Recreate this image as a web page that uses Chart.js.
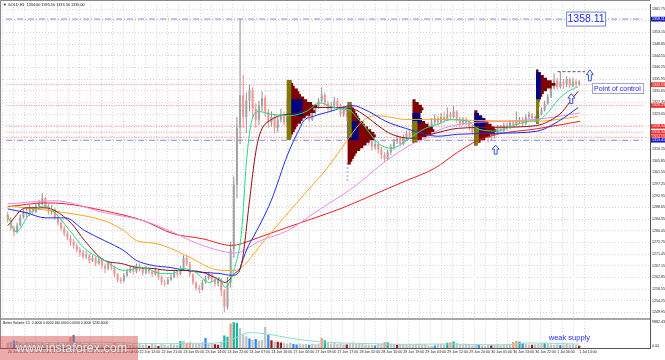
<!DOCTYPE html>
<html>
<head>
<meta charset="utf-8">
<script src="https://cdn.jsdelivr.net/npm/chart.js@4.4.0/dist/chart.umd.min.js"></script>
<style>
  html, body { margin: 0; padding: 0; background: #fff; }
  #wrap { position: relative; width: 665px; height: 360px; }
</style>
</head>
<body>
<div id="wrap"><canvas id="chart" width="665" height="360"></canvas></div>
<script>
// ============================================================
//  GOLD H1 — candles, moving averages, volume profiles, volume
// ============================================================

// ---- Candles (H1 bars) ----
const opens = [
  1286,1284,1281,1279.5,1282,1285,1287,1286,1288.5,1287,
  1289,1290,1292,1289,1287,1288,1285,1283,1281,1279,
  1277.5,1276,1274.5,1273,1272,1270.5,1271,1269,1270,1268,
  1269.5,1267,1266,1268,1266.5,1264,1262,1261.5,1263.5,1265,
  1266,1265,1267,1266,1264.5,1266,1265,1264,1265.5,1263,
  1261,1260.5,1262,1263,1264.5,1264,1266,1270,1268,1264,
  1261,1259,1258.5,1261,1262.5,1264,1262,1260.5,1262,1258,
  1252,1261,1273,1297,1318,1330,1322,1328,1332,1325,
  1321,1326,1329,1324,1320,1322,1318,1321,1323,1320,
  1322,1325,1327,1324,1322,1325,1323,1321,1324,1326,
  1328,1330,1327,1325,1326,1328,1326,1323,1325,1322,
  1318,1316,1318,1315,1313,1315,1313,1311,1312,1310,
  1308,1306.5,1309,1311,1313,1314,1312,1314.5,1316,1315,
  1317,1316,1318,1317,1319,1318,1320,1321.5,1320,1322,
  1321,1323,1322,1324,1321,1319.5,1321,1320,1318,1316.5,
  1318,1317,1315.5,1316.5,1314.5,1315,1316,1318,1317,1319,
  1318,1320,1319,1320.5,1321,1319.5,1322,1323,1321.5,1322,
  1323,1324.5,1327,1329.5,1332.5,1335.5,1333,1335,1334,1336,
  1333.5,1335,1334
];
const highs = [
  1287,1285,1282,1283,1286,1288,1288.5,1289.5,1289,1290,
  1291.5,1294,1292.5,1290,1289.5,1288.5,1286,1284,1282,1280,
  1278.5,1277,1275.5,1274,1273,1272.5,1271.5,1271,1270.5,1270.5,
  1270,1268,1269,1268.5,1267,1264.5,1263,1264.5,1266,1267,
  1267,1268,1268,1266.5,1267,1266.5,1265.5,1266.5,1266,1263.5,
  1262,1263,1264,1265.5,1265.5,1267,1271,1271,1268.5,1264.5,
  1261.5,1260,1262,1263.5,1265,1264.5,1263,1263,1262.5,1258.5,
  1263,1276,1300,1322,1358.11,1337.5,1331,1334,1333,1327,
  1328,1331.5,1330,1325,1324,1323,1322,1325,1324,1323.5,
  1326.5,1328.5,1327.5,1325,1326,1326,1324,1325,1327,1329,
  1333,1331,1328,1327.5,1329.5,1329,1327,1326,1325.5,1323,
  1319.5,1320,1319,1316,1316.5,1316,1314,1313.5,1313,1311,
  1309,1310,1312,1314,1315.5,1315,1315.5,1317,1317,1318,
  1318,1319.5,1319,1320,1320,1321.5,1323,1322.5,1323.5,1324,
  1325.5,1324,1326,1324.5,1322,1322,1322,1320.5,1319,1319,
  1319,1317.5,1317.5,1317,1316,1317,1319,1319,1320,1320,
  1321,1321,1324,1322,1322,1323,1324,1323.5,1322.5,1324,
  1325.5,1328,1330.5,1333.5,1338,1336.5,1338.7,1336,1337,1336.5,
  1336.5,1336,1335.5
];
const lows = [
  1283,1280,1278,1279,1281.5,1284.5,1285,1285.5,1286,1286.5,
  1288,1289.5,1288,1286,1286,1284,1282,1280,1278,1276.5,
  1274.5,1273.5,1272,1270.5,1269.5,1269.5,1268,1268.5,1267,1267.5,
  1266,1264.5,1265.5,1265.5,1263,1261,1260.5,1261,1263,1264.5,
  1264,1264.5,1265,1263.5,1264,1264,1263,1263.5,1262,1260,
  1259.5,1260,1261.5,1262.5,1263,1263.5,1265.5,1267,1263,1260,
  1258,1257,1258,1260.5,1262,1261,1259.5,1259.5,1256,1250,
  1251,1259,1270,1292,1312,1318,1316,1324,1322,1318,
  1319,1324,1322,1318,1318.5,1316,1316.5,1320,1319,1318.5,
  1321,1324,1323,1320.5,1321,1322,1320,1320.5,1323,1325,
  1327,1326,1324,1324,1325,1325,1322,1322,1320.5,1316,
  1314,1315,1313.5,1311,1312,1311.5,1309.5,1310,1308.5,1306.5,
  1305.5,1306,1308,1310,1312,1311,1311.5,1313.5,1314,1314,
  1315,1315.5,1316,1316.5,1317,1317.5,1319,1319,1319.5,1320,
  1320.5,1321,1321.5,1320,1318.5,1319,1319,1317,1315.5,1315.5,
  1316,1314.5,1314.5,1312.5,1313.5,1314,1315.5,1316,1316.5,1317,
  1317.5,1318,1318.5,1319.5,1318.5,1319,1321,1320.5,1320.5,1321.5,
  1322.5,1324,1326.5,1329,1332,1332,1332.5,1332.5,1333,1332.5,
  1333,1333,1333.5
];
const closes = [
  1284,1281,1279.5,1282,1285,1287,1286,1288.5,1287,1289,
  1290,1292,1289,1287,1288,1285,1283,1281,1279,1277.5,
  1276,1274.5,1273,1272,1270.5,1271,1269,1270,1268,1269.5,
  1267,1266,1268,1266.5,1264,1262,1261.5,1263.5,1265,1266,
  1265,1267,1266,1264.5,1266,1265,1264,1265.5,1263,1261,
  1260.5,1262,1263,1264.5,1264,1266,1270,1268,1264,1261,
  1259,1258.5,1261,1262.5,1264,1262,1260.5,1262,1258,1252,
  1261,1273,1297,1318,1330,1322,1328,1332,1325,1321,
  1326,1329,1324,1320,1322,1318,1321,1323,1320,1322,
  1325,1327,1324,1322,1325,1323,1321,1324,1326,1328,
  1330,1327,1325,1326,1328,1326,1323,1325,1322,1318,
  1316,1318,1315,1313,1315,1313,1311,1312,1310,1308,
  1306.5,1309,1311,1313,1314,1312,1314.5,1316,1315,1317,
  1316,1318,1317,1319,1318,1320,1321.5,1320,1322,1321,
  1323,1322,1324,1321,1319.5,1321,1320,1318,1316.5,1318,
  1317,1315.5,1316.5,1314.5,1315,1316,1318,1317,1319,1318,
  1320,1319,1320.5,1321,1319.5,1322,1323,1321.5,1322,1323,
  1324.5,1327,1329.5,1332.5,1335.5,1333,1335,1334,1336,1333.5,
  1335,1334,1335
];

// ---- Better Volume (value per bar + bar kind) ----
const volumes = [
  1800,2100,2800,2600,1900,1400,2200,1700,2000,1600,
  1500,1900,1300,1700,1200,1600,2000,1400,1800,2300,
  4200,5000,2500,1900,1600,1400,1800,1300,1500,1200,
  1400,1100,1600,1300,1900,1500,1200,1700,1400,1100,
  1300,1000,1500,1200,1400,900,1500,1300,800,1400,
  1200,1000,1500,1300,1100,2600,2800,2000,2200,1600,
  1700,1500,2100,3800,1600,2000,1400,1200,2400,4800,
  4300,9400,9882,9700,7600,5200,4500,3600,3200,3400,
  2900,3100,8000,5000,3000,2500,2400,2100,1900,1600,
  2000,1500,1300,1700,1400,1500,1200,1600,1400,1700,
  3800,3000,1900,1600,2100,1500,1800,1400,1300,1700,
  2100,1500,1800,1600,1300,1200,1100,1000,1500,1700,
  2300,2200,1600,1400,1200,1300,1500,1200,1400,1100,
  1300,1600,1200,1400,1000,900,1000,1300,1500,1200,
  2000,2200,2500,1800,1300,1100,1400,1200,1000,1300,
  1100,1000,900,1200,1000,1100,1300,1000,1200,1400,
  1600,2300,2700,2400,1800,1500,1300,1200,1400,1600,
  1700,1900,1500,1300,1200,1400,1100,1300,1500,1200,
  1400,1100,900
];
// n normal, b low/blue, t churn/teal, s climax up/salmon, r climax down/dark red
const volumeKinds =
  'nnbnnnnnnn' + 'nnnnnnnnnn' + 'sbnnnnnnnn' + 'nnnnsnnnnn' + 'nnnnnrnnrn' +
  'nnnnntnssn' + 'nnnbnnrrnt' + 'tsttnnnbnb' + 'nnnbrnrrnn' + 'nbbnnnbnnn' +
  'stnnnnnnrn' + 'nnnnnnnbnn' + 'stnnrnnnnn' + 'nnnnnnbnnn' + 'tstnnnnnnn' +
  'bnnnrnnnnn' + 'nsstbnnrnn' + 'ntnnnnbnnn' + 'nnr';
const volumeMA = [[0,1900],[20,2100],[30,2200],[45,1700],[60,1800],[68,2100],[72,3600],[76,5700],
  [82,5400],[88,4200],[95,2900],[105,2000],[115,1700],[125,1400],[140,1500],[150,1300],
  [160,1300],[165,1900],[172,1800],[182,1500]];

// ---- Moving averages: [bar, price] ----
const maGreen = [[0,1285.6],[2.6,1279.7],[7.3,1286.7],[12,1289.2],[15,1286.7],[19.8,1280.1],[24.5,1273.5],
  [30.8,1269.1],[37,1265.4],[43,1266.5],[48.6,1264.3],[52.6,1264.3],[55.8,1266.1],[59.8,1264.7],
  [64.2,1261],[67.3,1262.5],[69.2,1259.2],[72.3,1266.5],[74.5,1280],[76,1305],[77.6,1320],[80,1324],
  [83.9,1323],[90,1322.5],[95,1324],[99.5,1327.2],[102.6,1326],[105.8,1325],[108.9,1324.5],[111,1322],
  [113,1319.5],[118.3,1312],[122.3,1310.5],[126.7,1313],[129.8,1315.6],[133,1317.8],[137,1319.3],
  [141,1321],[146.4,1320.5],[150,1317.5],[155.8,1316.8],[162,1319.2],[166.7,1320.5],[168.3,1320.5],
  [172.3,1324],[175.4,1328.5],[178.6,1331.5],[181.7,1333.2]];
const maBrown = [[0,1281.9],[5.8,1288.5],[12,1288.5],[15.1,1287.4],[20.4,1282.6],[24.5,1276.4],[30.8,1269.1],
  [36,1268],[41,1266.5],[46.4,1266.1],[51.7,1265.4],[56.7,1265.4],[62,1264.7],[66,1262.8],[69.2,1261],
  [72.3,1264.3],[74.5,1268],[77,1291],[78.6,1306],[80.1,1315],[83.9,1321],[92.3,1323.5],[97.3,1325.5],
  [102.6,1325.5],[109.8,1325],[114.2,1322.2],[118.3,1318.5],[122.3,1315.6],[128.6,1314.1],[134.8,1315.6],
  [143.3,1317.8],[155.8,1318.2],[168.3,1318.8],[172.3,1320.4],[176.7,1324],[179.8,1328.8],[181.7,1331.5]];
const maBlue = [[0,1288.1],[5.8,1286.7],[12,1284.8],[18.3,1284.8],[24.5,1280.1],[30.8,1276.4],[37,1272.7],
  [41,1269.1],[46.4,1267.2],[51.7,1266.5],[56.7,1265.4],[62,1264.7],[67.3,1264.3],[71.4,1263.6],
  [73.6,1264.7],[74.5,1268],[76.7,1274.6],[77.6,1276.4],[83.9,1291.1],[89.2,1308.3],[93.3,1318.5],
  [94.2,1320.5],[97.3,1322.2],[102.6,1324],[109.8,1326.2],[115,1324],[120.4,1320.4],[126.7,1317.8],
  [133,1315.6],[137,1314.9],[143.3,1315.6],[155.8,1316],[168.3,1316.7],[175.4,1320.4],[181.7,1325.5]];
const maOrange = [[0,1289.2],[18.3,1286.7],[30.8,1283.7],[37,1280.1],[41,1276.4],[47.3,1275.3],[53.6,1272.7],
  [59.8,1269.1],[64.2,1266.5],[68.3,1265.4],[72.3,1265.4],[74.5,1266.5],[81.7,1276.4],[87.9,1284.8],
  [95.4,1294.7],[101.7,1303.1],[107.9,1313],[112,1319.3],[114.2,1321.5],[117.3,1322.5],[120.4,1322.2],
  [126.7,1321.1],[137,1321.1],[149.5,1320.7],[168.3,1320.4],[175.4,1321.1],[181.7,1322.2]];
const maViolet = [[0,1290],[15.1,1291.1],[30.8,1286.7],[43.3,1283.7],[52.6,1279.5],[60,1275.5],[68.3,1272.5],
  [72.3,1271.8],[74.5,1272.3],[79.8,1276],[89.2,1280.1],[98.6,1287.4],[109.8,1295.8],[120.4,1305.7],
  [128.6,1311.9],[133,1314.1],[137,1317],[145,1319.5],[157.9,1320.4],[168.3,1321.1],[182.3,1323.5]];
const maRed = [[0,1288.9],[12,1290.3],[18.3,1290],[30.8,1287.4],[43.3,1283.7],[52.6,1279],[62,1277.1],
  [71.4,1274.6],[74.5,1275.3],[79.8,1277.5],[92.3,1282.6],[106.7,1288.5],[114.2,1292.2],[126.7,1298.4],
  [136,1303.1],[143.3,1309],[149.5,1313.2],[155.8,1315.6],[168.3,1317.6],[182.3,1320.4]];

// ---- Daily volume profiles: start bar, top price level, size per level (1.00 steps down) ----
const profileStart = [88.9, 108.25, 128.9, 148.6, 168.25];
const profileTop = [1335, 1327, 1328, 1324, 1339];
const profileSize = [
  [1.5,2,2.5,3.5,4,4.5,5.5,6.5,8,9.7,8.5,9,7.5,6,5,4.5,3.5,3,2.5,2,1.5,1.2],
  [1.2,1.5,2,2.5,3,3.5,4,5,5.5,6.5,7.5,8.5,9,8.5,7,6,5,4,3,2.5,2,1.5,1],
  [1,2,3,3.5,3,2.5,2.5,3,4,5,6.5,7,6,4.5,3,1.5],
  [1,1.5,2.5,3.5,4.5,5.5,6.5,7,6.5,5,3.5,2,1],
  [0.8,1.5,2.5,3.5,5,6.2,5,3.5,2.5,2,1.5,1.2,1,1,0.8,0.8,0.8,0.8,0.8,0.8]
];
const profileNavyBand = [[1323,1328],[1314,1320],[1320,1323],[1318,1323],[1329,1338]];
const profileOliveBand = [[1314,1335],[1315,1327],[1313,1320],[1312,1318],[1319,1328]];

// ---- Levels ----
const redLevels = [1333.93, 1326.23, 1318.54, 1316.34, 1314.51];
const blueLevels = [1358.11, 1313.41];
const sessionHigh = 1338.7;

// ---- Axis labels ----
const yTicks = [1361.75,1357.45,1353.15,1348.85,1344.55,1340.25,1335.95,1331.65,1327.35,1323.05,
  1318.75,1314.45,1310.15,1305.85,1301.55,1297.25,1292.95,1288.65,1284.35,1280.05,1275.75,
  1271.45,1267.15,1262.85,1258.55,1254.25,1249.95];
const xLabels = ['20 Jun 2016','20 Jun 18:00','21 Jun 02:00','21 Jun 11:00','21 Jun 19:00','22 Jun 04:00',
  '22 Jun 12:00','22 Jun 21:00','23 Jun 05:00','23 Jun 14:00','23 Jun 22:00','24 Jun 07:00','24 Jun 16:00',
  '27 Jun 00:00','27 Jun 09:00','27 Jun 17:00','28 Jun 02:00','28 Jun 10:00','28 Jun 19:00','29 Jun 03:00',
  '29 Jun 12:00','29 Jun 20:00','30 Jun 05:00','30 Jun 13:00','30 Jun 22:00','1 Jul 06:00','1 Jul 14:00'];

// ---- Layout / style ----
const X_MIN = -0.5, X_MAX = 202.6;
const Y_MIN = 1236.8, Y_MAX = 1363.6;
const VOL_TOP = 9882.43;
const VOL_MAX = VOL_TOP * 346 / 26;
const BARS_PER_LABEL = 7;
const navyWidth = [5, 3.5, 3, 3.5, 1.6];
const oliveWidth = [1.4, 1.3, 1.6, 1.5, 1.6];
const volColors = { n: '#c2c2c2', b: '#2b8cff', t: '#1fb0a0', s: '#f49a7c', r: '#a01818' };
const FONT = "'Liberation Sans', Arial, sans-serif";

Chart.defaults.font.family = FONT;
Chart.defaults.color = '#222';

const N = closes.length;
const bars = closes.map((_, i) => i);
const isUp = i => closes[i] >= opens[i];

// ---- Profile rows as short thick horizontal segments (null breaks the line) ----
const profRed = [], profNavy = [], profOlive = [];
function row(list, x0, len, price) {
  list.push({ x: x0, y: price }, { x: x0 + len, y: price }, { x: x0 + len, y: null });
}
profileTop.forEach((top, p) => {
  const x0 = profileStart[p];
  profileSize[p].forEach((len, k) => {
    const price = top - k;
    row(profRed, x0, len, price);
    const nb = profileNavyBand[p], ob = profileOliveBand[p];
    if (price >= nb[0] && price <= nb[1]) row(profNavy, x0, Math.min(len, navyWidth[p]), price);
    if (price >= ob[0] && price <= ob[1]) row(profOlive, x0, Math.min(len, oliveWidth[p]), price);
  });
});

function maLine(points, color, order) {
  return {
    type: 'line', data: points.map(([x, y]) => ({ x, y })),
    borderColor: color, borderWidth: 1, pointRadius: 0,
    tension: 0.4, cubicInterpolationMode: 'monotone', order
  };
}
function levelLine(price, color, dash) {
  return {
    type: 'line', data: [{ x: X_MIN, y: price }, { x: X_MAX, y: price }],
    borderColor: color, borderWidth: 1, borderDash: dash, pointRadius: 0, order: 9
  };
}
function profileSet(data, color, order) {
  return {
    type: 'line', data, borderColor: color, borderWidth: 2.75, borderCapStyle: 'butt',
    pointRadius: 0, spanGaps: false, tension: 0, order
  };
}

const datasets = [
  maLine(maGreen, '#22dd88', 1),
  maLine(maBrown, '#8b1010', 1),
  maLine(maBlue, '#1a2cf0', 1),
  maLine(maOrange, '#ffa620', 1),
  maLine(maViolet, '#ee88ee', 1),
  maLine(maRed, '#f02020', 1),
  profileSet(profOlive, '#7d7d00', 2),
  profileSet(profNavy, '#000080', 3),
  profileSet(profRed, '#800000', 4),
  // candle bodies and wicks
  {
    type: 'bar', data: bars.map(i => ({ x: i, y: [opens[i], closes[i]] })),
    backgroundColor: bars.map(i => isUp(i) ? '#a2a2a2' : '#f39494'),
    grouped: false, maxBarThickness: 2, order: 5
  },
  {
    type: 'bar', data: bars.map(i => ({ x: i, y: [lows[i], highs[i]] })),
    backgroundColor: bars.map(i => isUp(i) ? '#8e8e8e' : '#f08a8a'),
    grouped: false, maxBarThickness: 1, order: 6
  },
  // volume pane
  {
    type: 'bar', yAxisID: 'yv', data: bars.map(i => ({ x: i, y: volumes[i] })),
    backgroundColor: bars.map(i => volColors[volumeKinds[i]]),
    grouped: false, maxBarThickness: 2.4, order: 7
  },
  {
    type: 'line', yAxisID: 'yv', data: volumeMA.map(([x, y]) => ({ x, y })),
    borderColor: '#8fdcd0', borderWidth: 1, pointRadius: 0, tension: 0.4, order: 1
  },
  // session high and the profile marker
  {
    type: 'line', data: [{ x: 175.1, y: sessionHigh }, { x: 183.9, y: sessionHigh }],
    borderColor: '#555', borderWidth: 1, borderDash: [3, 2], pointRadius: 0, order: 1
  },
  {
    type: 'line', data: [{ x: profileStart[1], y: 1305 }, { x: profileStart[1], y: 1298 }],
    borderColor: '#c6bde8', borderWidth: 2, borderDash: [2, 2], pointRadius: 0, order: 8
  },
  ...redLevels.map(p => levelLine(p, '#ff8c8c', [1, 1.5])),
  ...blueLevels.map(p => levelLine(p, '#8484e6', [6, 2, 1, 2]))
];

// ---- Overlay: frame, header, price labels, notes, watermark ----
function upArrow(ctx, cx, tipY, w, h) {
  ctx.beginPath();
  ctx.moveTo(cx, tipY);
  ctx.lineTo(cx + w / 2, tipY + h * 0.45);
  ctx.lineTo(cx + w * 0.2, tipY + h * 0.45);
  ctx.lineTo(cx + w * 0.2, tipY + h);
  ctx.lineTo(cx - w * 0.2, tipY + h);
  ctx.lineTo(cx - w * 0.2, tipY + h * 0.45);
  ctx.lineTo(cx - w / 2, tipY + h * 0.45);
  ctx.closePath();
  ctx.fillStyle = '#fff';
  ctx.fill();
  ctx.strokeStyle = '#3552e6';
  ctx.lineWidth = 1;
  ctx.stroke();
}

const overlay = {
  id: 'overlay',
  beforeDraw(chart) {
    const c = chart.ctx;
    c.save();
    c.fillStyle = '#fff';
    c.fillRect(0, 0, chart.width, chart.height);
    c.restore();
  },
  afterDraw(chart) {
    const c = chart.ctx, a = chart.chartArea;
    const X = v => chart.scales.x.getPixelForValue(v);
    const Y = v => chart.scales.y.getPixelForValue(v);
    const V = v => chart.scales.yv.getPixelForValue(v);
    const split = Math.round(a.top + a.height * 316 / 346);
    c.save();

    // pane separator and frame
    c.fillStyle = '#a8a8a8';
    c.fillRect(a.left, split, a.right - a.left, 2);
    c.strokeStyle = '#8a8a8a';
    c.lineWidth = 1;
    c.beginPath();
    c.moveTo(0.5, a.bottom); c.lineTo(0.5, 0.5); c.lineTo(a.right, 0.5);
    c.stroke();

    // header
    c.font = '3.8px ' + FONT;
    c.fillStyle = '#111';
    c.textBaseline = 'middle';
    c.textAlign = 'left';
    const last = [opens[N - 1], highs[N - 1], lows[N - 1], closes[N - 1]].map(v => v.toFixed(2)).join(' ');
    c.fillText('\u25BC GOLD,H1  ' + last, 3, 4.5);
    c.font = '3.4px ' + FONT;
    c.fillText('Better Volume 1.5  0.0000 0.0000 160.0000 0.0000 0.0000 1230.0000', 3, split + 5);

    // price tags on the axis
    const tag = (price, fill) => {
      const y = Y(price);
      c.fillStyle = fill;
      c.fillRect(a.right + 1, y - 2.3, chart.width - a.right - 1, 4.6);
      c.fillStyle = '#fff';
      c.font = '3.6px ' + FONT;
      c.fillText(price.toFixed(2), a.right + 2, y);
    };
    redLevels.forEach(p => tag(p, '#f52a2a'));
    blueLevels.forEach(p => tag(p, '#1717c4'));

    // volume scale labels
    c.fillStyle = '#222';
    c.font = '3.6px ' + FONT;
    c.fillText(VOL_TOP.toFixed(2), a.right + 2, V(VOL_TOP));
    c.fillText('0.00', a.right + 2, a.bottom - 2);

    // 1358.11 callout
    const bx = X(184.2), by = Y(1358.11);
    c.fillStyle = '#fff';
    c.fillRect(bx - 19.5, by - 7, 39, 14);
    c.strokeStyle = '#6d82cf';
    c.strokeRect(bx - 19.5, by - 7, 39, 14);
    c.fillStyle = '#1c1cff';
    c.font = '10.5px ' + FONT;
    c.textAlign = 'center';
    c.fillText('1358.11', bx, by + 0.5);

    // point of control note
    const px = X(186.1), py = Y(1332.5);
    c.fillStyle = '#fff';
    c.fillRect(px, py - 5, 52, 10);
    c.strokeStyle = '#9aa6c8';
    c.strokeRect(px + 0.5, py - 5, 51, 10);
    c.fillStyle = '#2424ff';
    c.font = '7px ' + FONT;
    c.textAlign = 'left';
    c.fillText('Point of control', px + 2, py + 0.5);

    // arrows
    upArrow(c, X(185.4), Y(1339.4), 7, 11);
    upArrow(c, X(179.5), Y(1330.6), 7, 10);
    upArrow(c, X(155.4), Y(1311.6), 7, 9);

    // weak supply note
    c.fillStyle = '#2d2dff';
    c.font = '7.5px ' + FONT;
    c.fillText('weak supply', X(172.3), V(3900));

    // watermark
    c.fillStyle = 'rgba(212, 66, 66, 0.45)';
    c.fillRect(0, 336, 138, 24);
    c.font = '12.5px ' + FONT;
    c.fillStyle = 'rgba(255,255,255,0.9)';
    c.strokeStyle = 'rgba(95,95,95,0.55)';
    c.lineWidth = 0.7;
    c.textBaseline = 'alphabetic';
    c.strokeText('www.instaforex.com', 16, 352);
    c.fillText('www.instaforex.com', 16, 352);
    c.restore();
  }
};

new Chart(document.getElementById('chart'), {
  type: 'bar',
  data: { datasets },
  plugins: [overlay],
  options: {
    responsive: false,
    animation: false,
    events: [],
    devicePixelRatio: 1,
    layout: { padding: { top: 2, left: 0, right: 0, bottom: 0 } },
    plugins: { legend: { display: false }, tooltip: { enabled: false } },
    scales: {
      x: {
        type: 'linear', min: X_MIN, max: X_MAX,
        afterBuildTicks: s => {
          s.ticks = Array.from({ length: xLabels.length * 2 - 1 }, (_, k) => ({ value: k * BARS_PER_LABEL / 2 }));
        },
        afterFit: s => { s.height = 12; },
        grid: { color: '#d6d6d6', drawTicks: false },
        border: { display: true, color: '#555', dash: [1, 2] },
        ticks: {
          autoSkip: false, maxRotation: 0, minRotation: 0, align: 'start', padding: 2,
          font: { size: 3.6 }, color: '#222',
          callback: (v, i) => (i % 2 === 0 ? xLabels[i / 2] : '')
        }
      },
      y: {
        type: 'linear', position: 'right', min: Y_MIN, max: Y_MAX,
        afterBuildTicks: s => { s.ticks = yTicks.map(v => ({ value: v })); },
        afterFit: s => { s.width = 15; },
        grid: { color: '#d6d6d6', drawTicks: false },
        border: { display: true, color: '#555', dash: [1, 2] },
        ticks: { padding: 2, font: { size: 3.6 }, color: '#222', callback: v => v.toFixed(2) }
      },
      yv: { type: 'linear', display: false, min: 0, max: VOL_MAX }
    }
  }
});
</script>
</body>
</html>
